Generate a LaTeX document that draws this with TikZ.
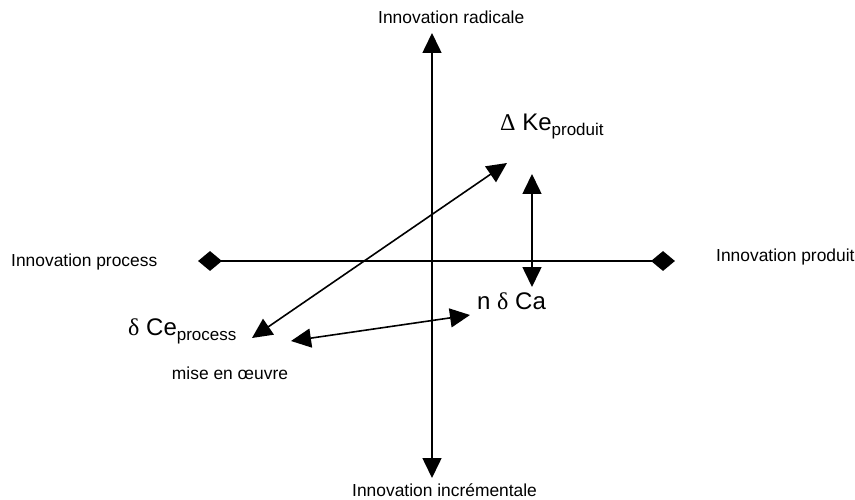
\documentclass[tikz,border=0pt]{standalone}
\usepackage{fontspec}
\setmainfont{Liberation Sans}
\newfontfamily\grkfont{Liberation Serif}
\usepackage{tikz}
\usetikzlibrary{arrows.meta,shapes.geometric}
\newcommand\lowidx[1]{\raisebox{-5pt}{\fontsize{17}{19}\selectfont #1}}

\begin{document}
\begin{tikzpicture}[x=1pt,y=-1pt,
  axislbl/.style={font=\fontsize{17.4}{20}\selectfont,inner sep=0pt},
  biglbl/.style={font=\fontsize{24}{28}\selectfont,inner sep=0pt,anchor=base west},
  dblarrow/.style={line width=1.6pt,
    {Triangle[length=20pt,width=19pt]}-{Triangle[length=20pt,width=19pt]}},
  diamondend/.style={diamond,fill,inner sep=0pt,minimum width=24pt,minimum height=20pt}]
  \useasboundingbox (0,0) rectangle (855,500);
  % axes
  \node[axislbl,anchor=west] (rad) at (378,17) {Innovation radicale};
  \node[axislbl,anchor=west] (inc) at (352,490) {Innovation incrémentale};
  \node[axislbl,anchor=west] (proc) at (11,262) {Innovation process};
  \node[axislbl,anchor=west] (prod) at (716,257) {Innovation produit};
  \coordinate (top) at (432,33);
  \coordinate (bot) at (432,478);
  \draw[dblarrow] (top) -- (bot);
  \node[diamondend] (left) at (210,261) {};
  \node[diamondend] (right) at (663,261) {};
  \draw[line width=1.6pt] (left.center) -- (right.center);
  % labels
  \node[biglbl] (ke) at (500,131) {{\grkfont Δ} Ke\lowidx{produit}};
  \node[biglbl] (ca) at (477,309) {n {\grkfont δ} Ca};
  \node[biglbl] (ce) at (128,335) {{\grkfont δ} Ce\lowidx{process}};
  \node[axislbl] (mise) at (230,373) {mise en œuvre};
  % arrows between them
  \coordinate (ceA) at (252,338);
  \coordinate (keA) at (507,163);
  \coordinate (keB) at (532,174);
  \coordinate (caB) at (532,287);
  \coordinate (ceC) at (291,341);
  \coordinate (caC) at (470,315);
  \draw[dblarrow] (ceA) -- (keA);
  \draw[dblarrow] (keB) -- (caB);
  \draw[dblarrow] (ceC) -- (caC);
\end{tikzpicture}
\end{document}
